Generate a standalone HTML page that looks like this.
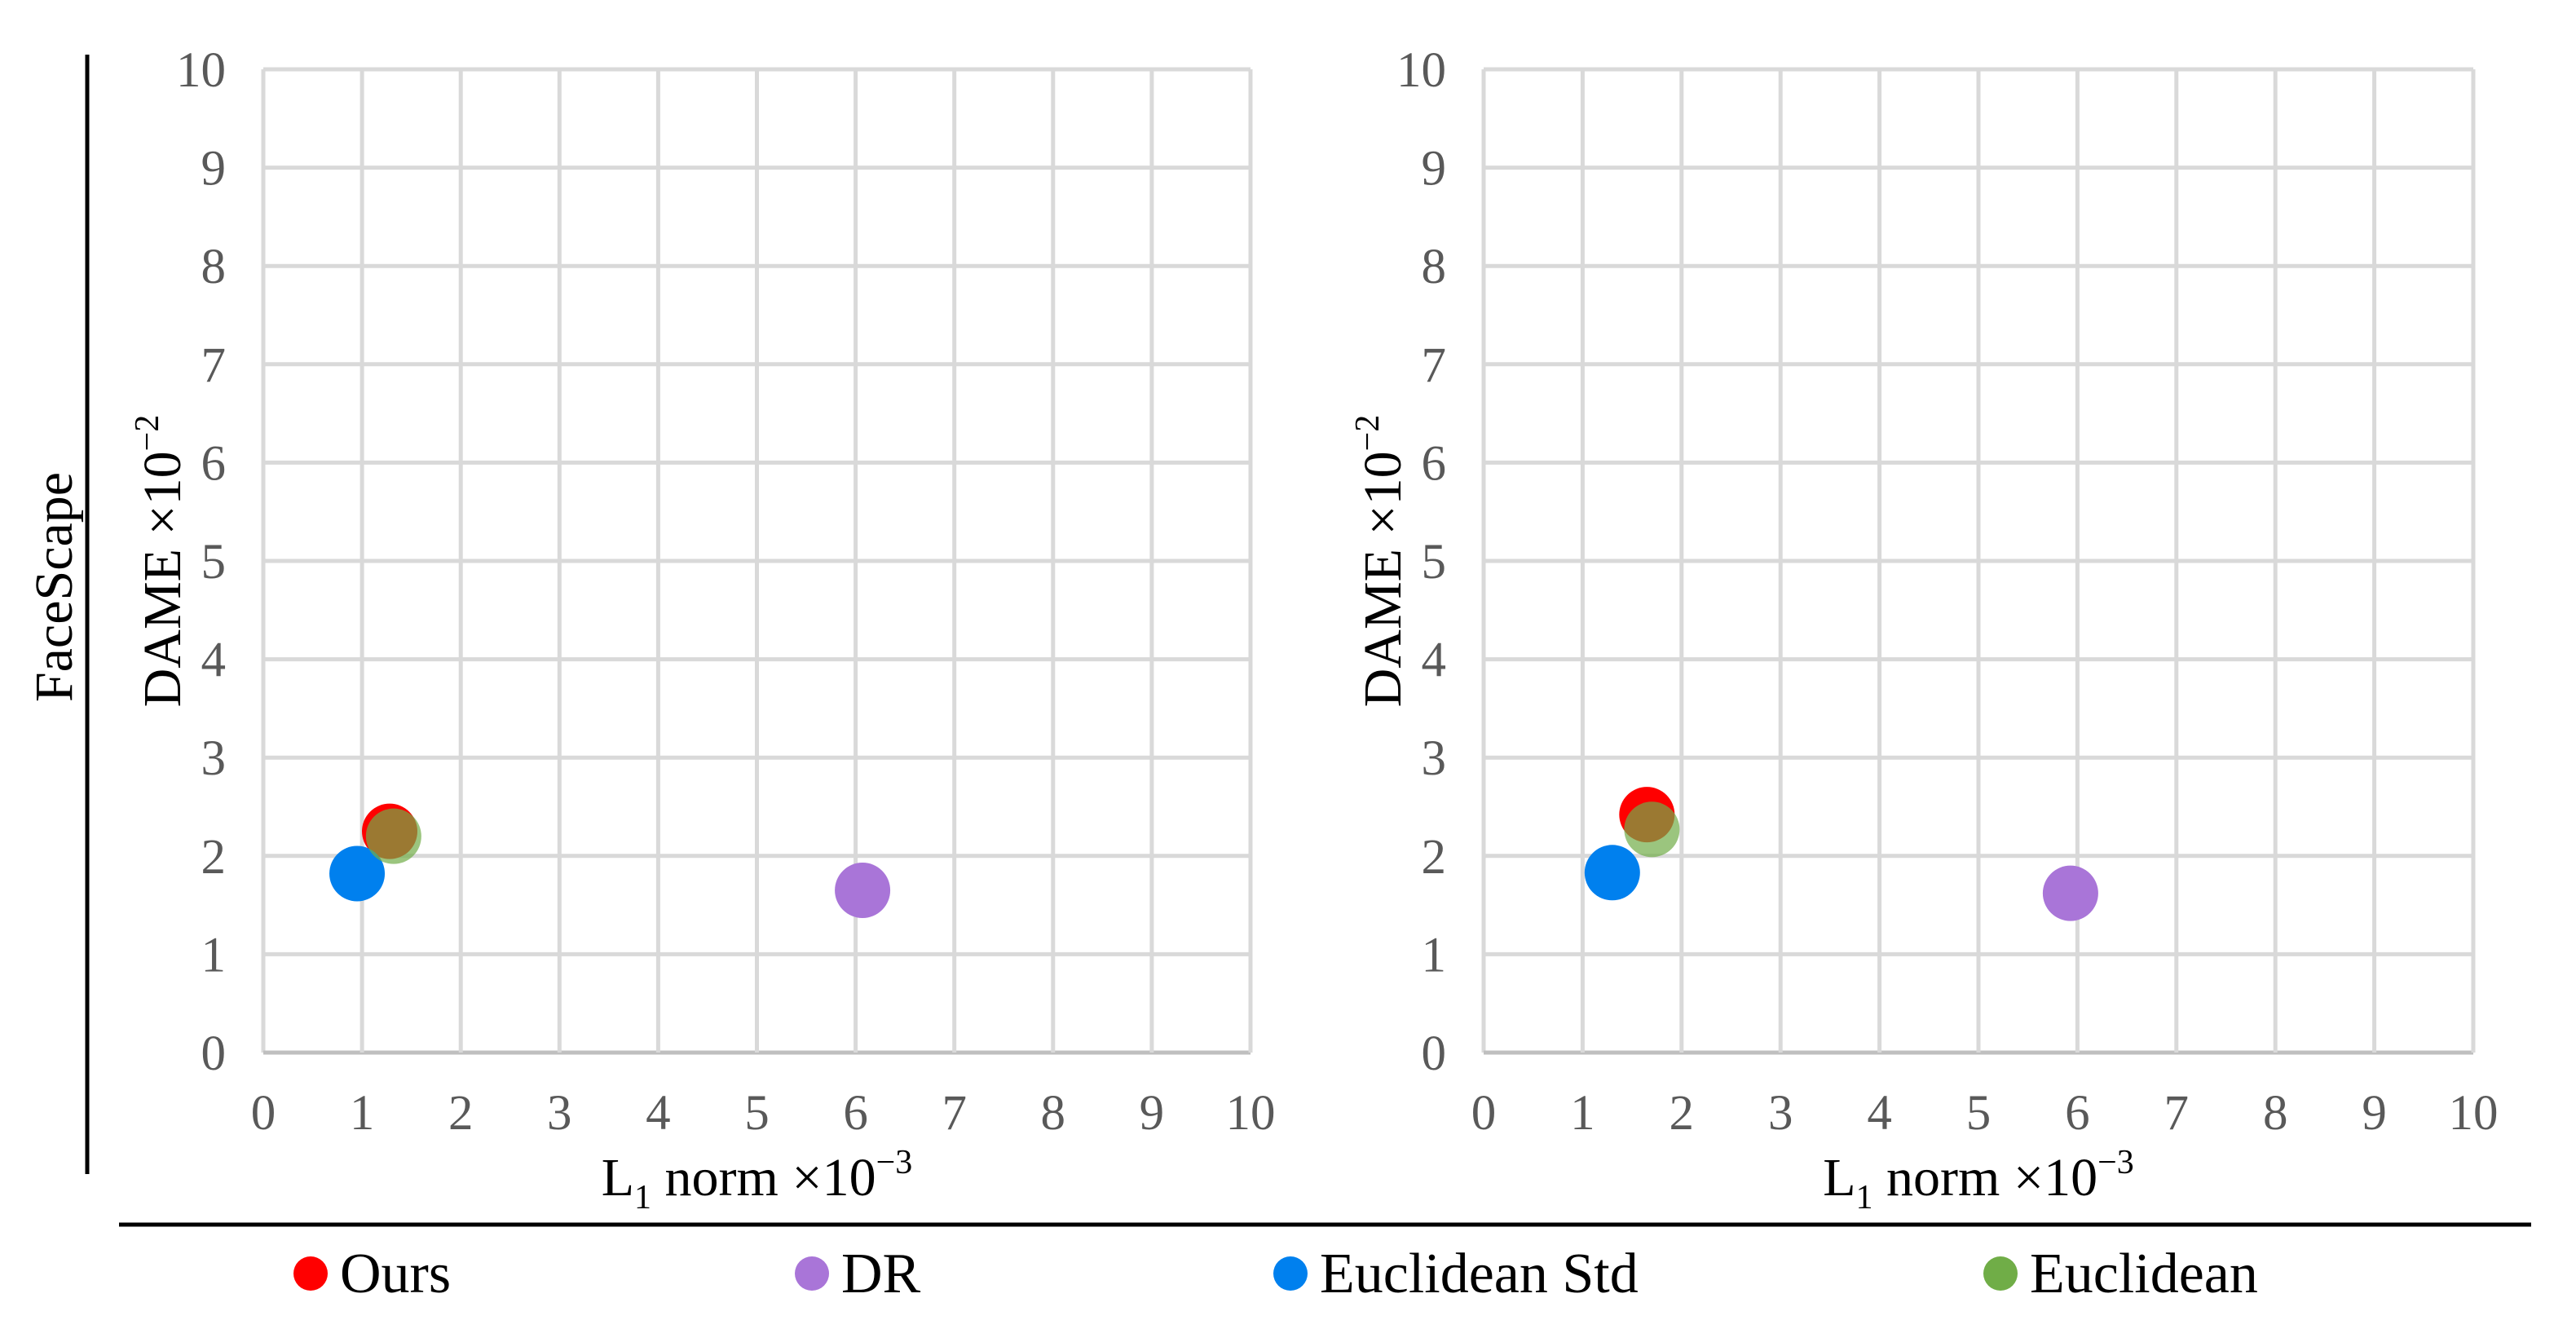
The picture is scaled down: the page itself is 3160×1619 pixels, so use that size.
<!DOCTYPE html>
<html><head><meta charset="utf-8"><style>
body{margin:0;background:#fff}
svg{display:block;font-family:"Liberation Serif",serif}
</style></head><body>
<svg id="c" width="3160" height="1619" viewBox="0 0 3160 1619">
<line x1="107" y1="67" x2="107" y2="1440" stroke="#000" stroke-width="5"/>
<text transform="translate(88,720) rotate(-90)" text-anchor="middle" font-size="66" fill="#000">FaceScape</text>
<line x1="146" y1="1502" x2="3105" y2="1502" stroke="#000" stroke-width="5"/>
<g id="legend"></g>
</svg>
<script>
const seriesNames=["Ours","DR","Euclidean Std","Euclidean"];
const seriesColors=["#ff0000","#a975d8","#0080ee","rgba(112,173,71,0.7)"];
const legendColors=["#ff0000","#a975d8","#0080ee","#70ad47"];
const leftX=[1.28,6.07,0.95,1.32];
const leftY=[2.25,1.65,1.82,2.2];
const rightX=[1.65,5.93,1.3,1.7];
const rightY=[2.42,1.62,1.83,2.27];
const ticks=[0,1,2,3,4,5,6,7,8,9,10];
const NS="http://www.w3.org/2000/svg";
const svg=document.getElementById('c');
function mk(tag,attrs,parent){const e=document.createElementNS(NS,tag);for(const k in attrs)e.setAttribute(k,attrs[k]);(parent||svg).appendChild(e);return e;}
function panel(name,x0,x1,xs,ys){
  const y0=1291,y1=85;
  const sx=v=>x0+(x1-x0)*v/10, sy=v=>y0+(y1-y0)*v/10;
  const g=mk('g',{});
  
  
  ticks.forEach(t=>{
    const vl=mk('line',{x1:sx(t),x2:sx(t),y1:sy(0),y2:sy(10),stroke:'#d9d9d9','stroke-width':5},g);
    
    
    const hl=mk('line',{x1:sx(0),x2:sx(10),y1:sy(t),y2:sy(t),stroke:t===0?'#bfbfbf':'#d9d9d9','stroke-width':5},g);
    
    
    const xt=mk('text',{x:sx(t),y:1385,'text-anchor':'middle','font-size':61,fill:'#595959'},g);
    xt.textContent=t;
    
    
    const yt=mk('text',{x:x0-46,y:sy(t)+21,'text-anchor':'end','font-size':61,fill:'#595959'},g);
    yt.textContent=t;
    
    
  });
  xs.forEach((v,i)=>{
    const c=mk('circle',{cx:sx(v),cy:sy(ys[i]),r:34,fill:seriesColors[i]},g);
    
    
  });
  const xtl=mk('text',{x:(x0+x1)/2,y:1466,'text-anchor':'middle','font-size':66,fill:'#000'},g);
  xtl.innerHTML='L<tspan font-size="42" dy="16">1</tspan><tspan dy="-16"> norm ×10</tspan><tspan font-size="42" dy="-27">−3</tspan>';
  
  
  const ytl=mk('text',{transform:`translate(${x0-102},${(y0+y1)/2}) rotate(-90)`,'text-anchor':'middle','font-size':66,fill:'#000'},g);
  ytl.innerHTML='DAME ×10<tspan font-size="42" dy="-27">−2</tspan>';
  
  
}
panel('left',323,1534,leftX,leftY);
panel('right',1820,3034,rightX,rightY);
const lg=document.getElementById('legend');
const lx=[381,996,1583,2454];
seriesNames.forEach((n,i)=>{
  const c=mk('circle',{cx:lx[i],cy:1562,r:21,fill:legendColors[i]},lg);
  
  
  const t=mk('text',{x:lx[i]+36,y:1585,'font-size':70,fill:'#000'},lg);
  t.textContent=n;
  
  
});
</script>
</body></html>
